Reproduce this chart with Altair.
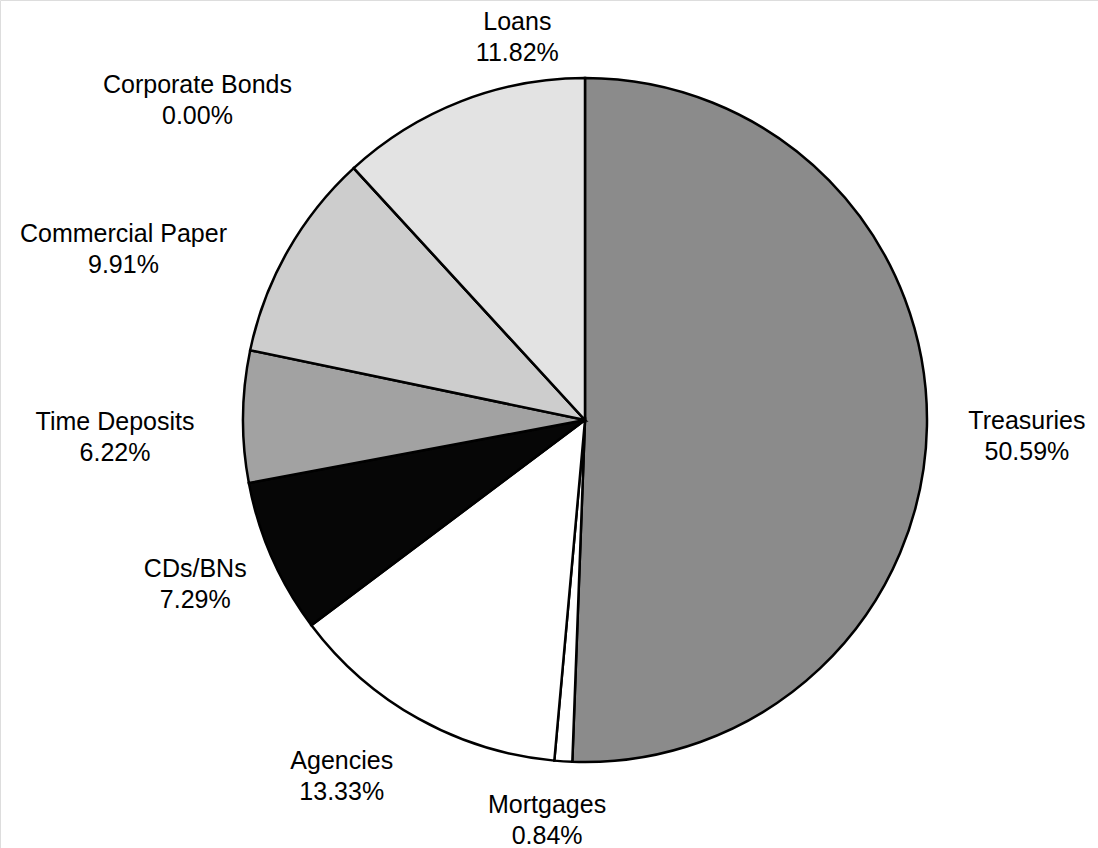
import altair as alt
import pandas as pd

categories = ["Treasuries", "Mortgages", "Agencies", "CDs/BNs", "Time Deposits",
              "Commercial Paper", "Corporate Bonds", "Loans"]
values = [50.59, 0.84, 13.33, 7.29, 6.22, 9.91, 0.00, 11.82]
colors = ["#8b8b8b", "#ffffff", "#ffffff", "#060606", "#a2a2a2", "#cdcdcd", "#d8d8d8", "#e3e3e3"]

# label nudges (layout only)
label_dx = [2, -10, -29, 13, -30, -79, -90, 92]
label_dy = [-7, -54, -43, -28, 6, 31, -11, 12]

df = pd.DataFrame({
    "category": categories,
    "value": values,
    "order": list(range(len(categories))),
    "label": [f"{c}\n{v:.2f}%" for c, v in zip(categories, values)],
})

CX, CY, R = 585, 420, 342

base = alt.Chart(df)

pie = base.mark_arc(outerRadius=R, stroke="black", strokeWidth=2.5).encode(
    theta=alt.Theta("value:Q", stack=True, scale=alt.Scale(domain=[0, 100])),
    order=alt.Order("order:Q"),
    color=alt.Color("category:N", scale=alt.Scale(domain=categories, range=colors), legend=None),
    x=alt.value(CX),
    y=alt.value(CY),
)

layers = [pie]
for i, cat in enumerate(categories):
    t = base.transform_window(
        cum="sum(value)", sort=[alt.SortField("order")]
    ).transform_calculate(
        mid="datum.cum - datum.value / 2"
    ).transform_filter(
        alt.datum.category == cat
    ).mark_text(
        radius=440, dx=label_dx[i], dy=label_dy[i], lineBreak="\n",
        font="Liberation Sans", fontSize=25, lineHeight=31, color="black",
        align="center", baseline="middle",
    ).encode(
        theta=alt.Theta("mid:Q", stack=None, scale=alt.Scale(domain=[0, 100], range=[0, 6.283185307179586])),
        text="label:N",
        x=alt.value(CX),
        y=alt.value(CY),
    )
    layers.append(t)

chart = alt.layer(*layers).properties(
    width=1098, height=848,
    autosize=alt.AutoSizeParams(type="none"),
    padding=0,
).configure_view(stroke=None).configure(background="white")

chart.save("out.html", embed_options={"renderer": "svg", "actions": False})
